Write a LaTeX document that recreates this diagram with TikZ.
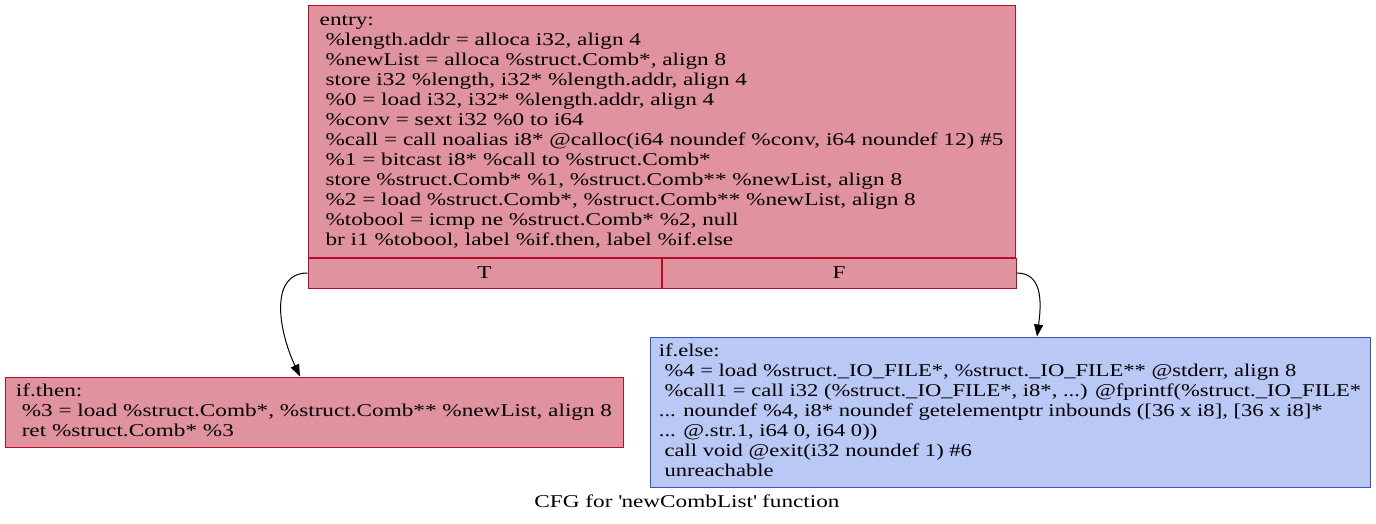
\documentclass[tikz,border=0pt]{standalone}
\usepackage{fontspec}
\setmainfont{Liberation Serif}[FakeStretch=1.29]
\newfontfamily\narrowserif{Liberation Serif}[FakeStretch=1.255]
\usetikzlibrary{arrows.meta}

\definecolor{heatred}{HTML}{B70D28}
\definecolor{heatredfill}{RGB}{224,146,158}
\definecolor{heatblue}{HTML}{3D50C3}
\definecolor{heatbluefill}{RGB}{185,200,245}
\newcommand{\cfgfont}{\fontsize{18}{20}\selectfont}

\tikzset{
  block/.style={draw=heatred, fill=heatredfill, line width=1pt, align=left,
    inner xsep=8pt, inner ysep=0pt, font=\cfgfont},
  coldblock/.style={block, draw=heatblue, fill=heatbluefill,
    font=\narrowserif\cfgfont},
  cell/.style={draw=heatred, fill=heatredfill, line width=1pt,
    minimum height=30pt, inner sep=0pt, font=\cfgfont},
  edge/.style={line width=1pt, -{Triangle[length=12pt,width=9pt]}}
}

\begin{document}
\begin{tikzpicture}[x=1pt,y=-1pt]
\useasboundingbox (0,0) rectangle (1376,524);
\node[block, minimum width=707pt, minimum height=251pt] (entry) at (661.5,131.5)
  {\strut entry:\\
   \ \%length.addr = alloca i32, align 4\\
   \ \%newList = alloca \%struct.Comb*, align 8\\
   \ store i32 \%length, i32* \%length.addr, align 4\\
   \ \%0 = load i32, i32* \%length.addr, align 4\\
   \ \%conv = sext i32 \%0 to i64\\
   \ \%call = call noalias i8* @calloc(i64 noundef \%conv, i64 noundef 12) \#5\\
   \ \%1 = bitcast i8* \%call to \%struct.Comb*\\
   \ store \%struct.Comb* \%1, \%struct.Comb** \%newList, align 8\\
   \ \%2 = load \%struct.Comb*, \%struct.Comb** \%newList, align 8\\
   \ \%tobool = icmp ne \%struct.Comb* \%2, null\\
   \ br i1 \%tobool, label \%if.then, label \%if.else\strut};
\node[cell, minimum width=353pt, anchor=north west] (T) at (entry.south west) {T};
\node[cell, minimum width=354pt, anchor=north west] (F) at (T.north east) {F};

\node[block, minimum width=618pt, minimum height=70pt] (ifthen) at (314,412)
  {\strut if.then:\\
   \ \%3 = load \%struct.Comb*, \%struct.Comb** \%newList, align 8\\
   \ ret \%struct.Comb* \%3\strut};

\node[coldblock, minimum width=720pt, minimum height=150pt] (ifelse) at (1010,412)
  {\strut if.else:\\
   \ \%4 = load \%struct.\_IO\_FILE*, \%struct.\_IO\_FILE** @stderr, align 8\\
   \ \%call1 = call i32 (\%struct.\_IO\_FILE*, i8*, ...) @fprintf(\%struct.\_IO\_FILE*\\
   ... noundef \%4, i8* noundef getelementptr inbounds ([36 x i8], [36 x i8]*\\
   ... @.str.1, i64 0, i64 0))\\
   \ call void @exit(i32 noundef 1) \#6\\
   \ unreachable\strut};

\node[font=\cfgfont, anchor=base] (caption) at (687,507)
  {CFG for \textquotesingle newCombList\textquotesingle\ function};

\draw[edge] (T.west) .. controls +(-38,0) and +(-22,-47) .. ([xshift=-14pt]ifthen.north);
\draw[edge] (F.east) .. controls +(25,0) and +(5,-37) .. ([xshift=27pt]ifelse.north);
\end{tikzpicture}
\end{document}
